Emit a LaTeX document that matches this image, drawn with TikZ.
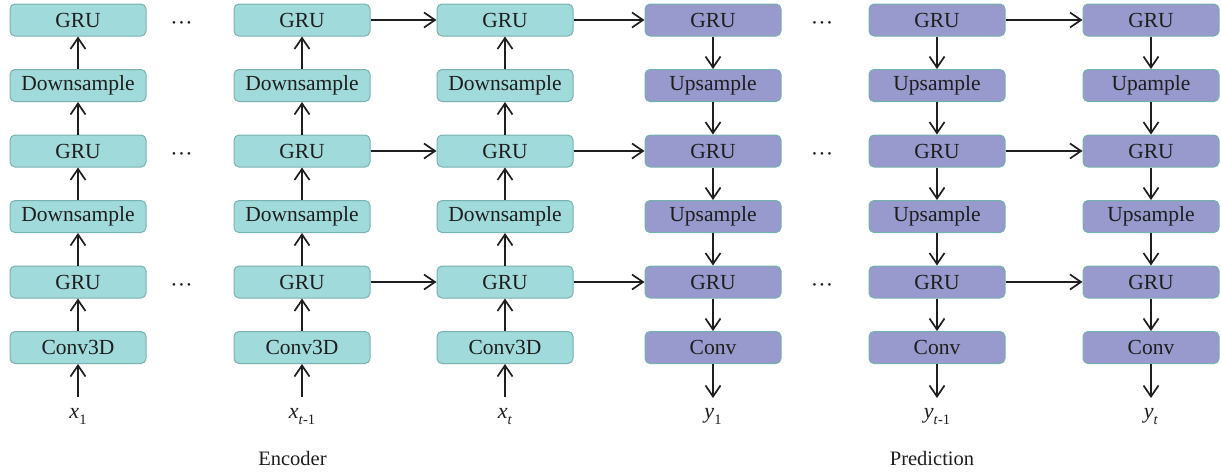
\documentclass[tikz,border=0pt]{standalone}
\usepackage{fontspec}
\setmainfont{Liberation Serif}
\usetikzlibrary{arrows.meta}
\definecolor{encfill}{HTML}{A0DADA}
\definecolor{encline}{HTML}{78B2B0}
\definecolor{prdfill}{HTML}{9899CC}
\definecolor{prdline}{HTML}{72B2AC}
\definecolor{ink}{HTML}{1E1E1E}
\tikzset{
  blk/.style={rounded corners=5pt, minimum width=136pt, minimum height=32pt,
    line width=1pt, inner sep=0pt, font=\fontsize{21.5}{23}\selectfont, text=ink},
  enc/.style={blk, draw=encline, fill=encfill},
  prd/.style={blk, draw=prdline, fill=prdfill},
  flow/.style={draw=ink, line width=1.7pt, -{Straight Barb[length=11pt,width=15pt,line width=1.7pt]}},
  lbl/.style={anchor=base, font=\fontsize{22}{23}\selectfont, text=ink},
  ttl/.style={anchor=base, font=\fontsize{20.5}{22}\selectfont, text=ink},
  dots/.style={inner sep=0pt, text=ink, font=\fontsize{11}{11}\selectfont}
}
\newcommand{\sbx}[1]{\raisebox{-0.28em}{\fontsize{14.5}{15}\selectfont #1}}
\newcommand{\hdots}{•\kern3.6pt•\kern3.6pt•}
\begin{document}
\begin{tikzpicture}[x=1pt,y=-1pt]
\useasboundingbox (0,0) rectangle (1221,472);

% encoder columns
\foreach \c/\x in {a/78, b/302, c/505} {
  \node[enc] (\c1) at (\x,20) {GRU};
  \node[enc] (\c2) at (\x,85.5) {Downsample};
  \node[enc] (\c3) at (\x,151) {GRU};
  \node[enc] (\c4) at (\x,216.5) {Downsample};
  \node[enc] (\c5) at (\x,282) {GRU};
  \node[enc] (\c6) at (\x,347.5) {Conv3D};
  \coordinate (\c in) at (\x,397);
  \draw[flow] (\c in) -- (\c6);
  \draw[flow] (\c6) -- (\c5);
  \draw[flow] (\c5) -- (\c4);
  \draw[flow] (\c4) -- (\c3);
  \draw[flow] (\c3) -- (\c2);
  \draw[flow] (\c2) -- (\c1);
}

% prediction columns
\foreach \c/\x/\u in {d/713/Upsample, e/937/Upsample, f/1151/Upample} {
  \node[prd] (\c1) at (\x,20) {GRU};
  \node[prd] (\c2) at (\x,85.5) {\u};
  \node[prd] (\c3) at (\x,151) {GRU};
  \node[prd] (\c4) at (\x,216.5) {Upsample};
  \node[prd] (\c5) at (\x,282) {GRU};
  \node[prd] (\c6) at (\x,347.5) {Conv};
  \coordinate (\c out) at (\x,398);
  \draw[flow] (\c1) -- (\c2);
  \draw[flow] (\c2) -- (\c3);
  \draw[flow] (\c3) -- (\c4);
  \draw[flow] (\c4) -- (\c5);
  \draw[flow] (\c5) -- (\c6);
  \draw[flow] (\c6) -- (\c out);
}

% recurrent links between time steps
\foreach \r in {1,3,5} {
  \draw[flow] (b\r) -- (c\r);
  \draw[flow] (c\r) -- (d\r);
  \draw[flow] (e\r) -- (f\r);
  \node[dots] (ga\r) at ([yshift=-4pt]181.5,0 |- a\r) {\hdots};
  \node[dots] (gd\r) at ([yshift=-4pt]822,0 |- d\r) {\hdots};
}

% inputs and outputs
\node[lbl] (xa) at (78,418) {\textit{x}\sbx{1}};
\node[lbl] (xb) at (302,418) {\textit{x}\sbx{\textit{t}-1}};
\node[lbl] (xc) at (505,418) {\textit{x}\sbx{\textit{t}}};
\node[lbl] (yd) at (713,418) {\textit{y}\sbx{1}};
\node[lbl] (ye) at (937,418) {\textit{y}\sbx{\textit{t}-1}};
\node[lbl] (yf) at (1151,418) {\textit{y}\sbx{\textit{t}}};

% section titles
\node[ttl] (encT) at (292.5,465) {Encoder};
\node[ttl] (prdT) at (932,465) {Prediction};
\end{tikzpicture}
\end{document}
